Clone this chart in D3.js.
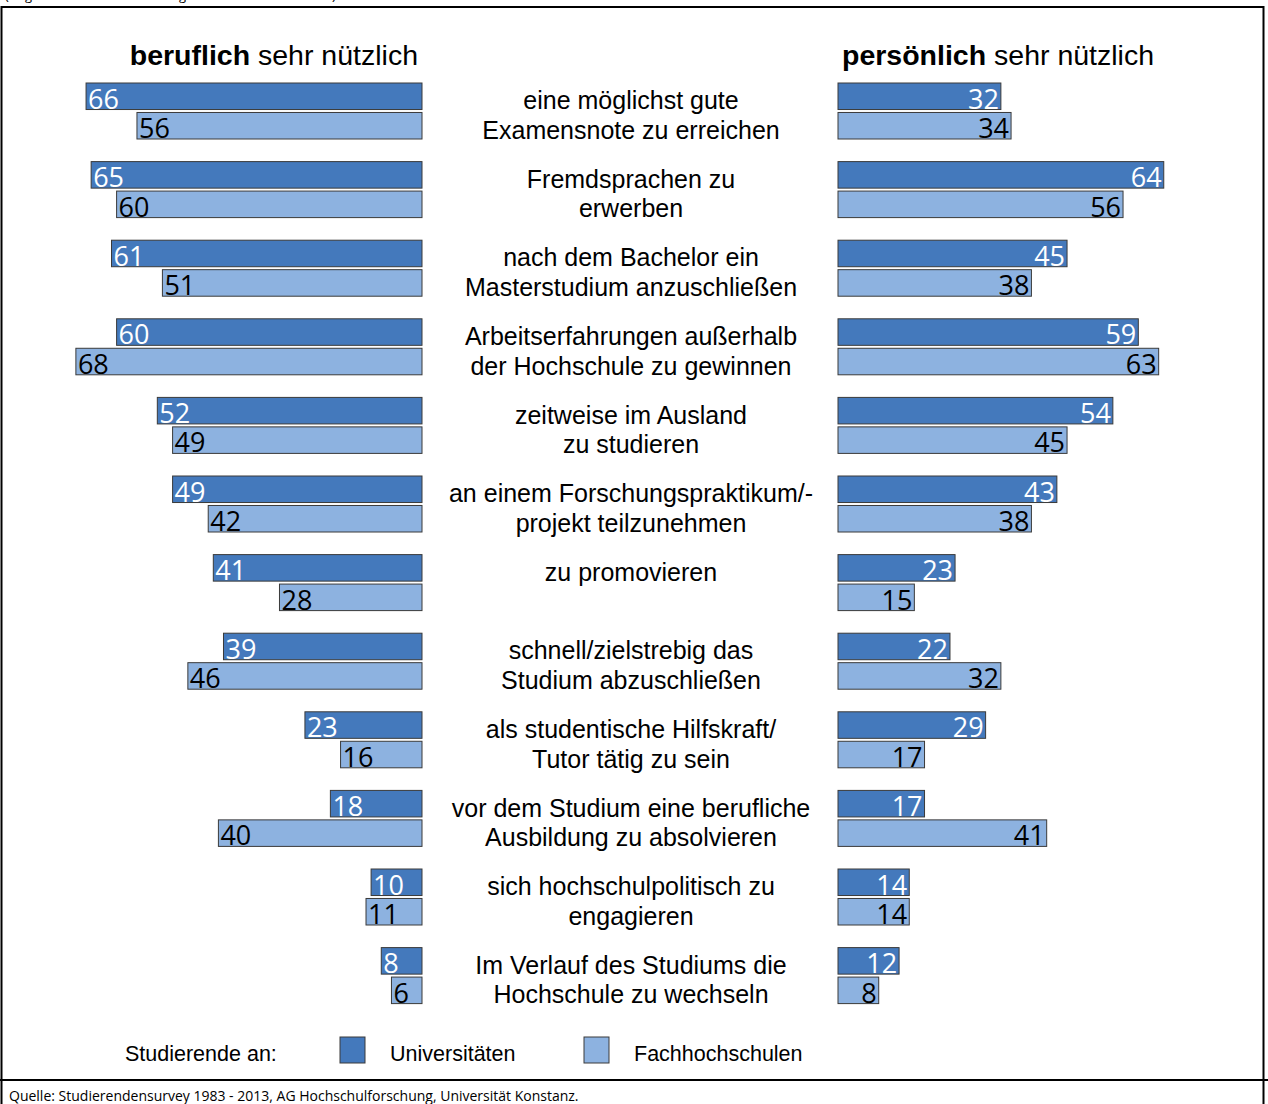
<!DOCTYPE html>
<html>
<head>
<meta charset="utf-8">
<script src="https://cdn.jsdelivr.net/npm/d3@7"></script>
<style>
  body { margin: 0; background: #fff; }
  svg { display: block; }
</style>
</head>
<body>
<div id="chart"></div>
<script>
// categories, two text lines each
var categories = [
  ["eine möglichst gute", "Examensnote zu erreichen"],
  ["Fremdsprachen zu", "erwerben"],
  ["nach dem Bachelor ein", "Masterstudium anzuschließen"],
  ["Arbeitserfahrungen außerhalb", "der Hochschule zu gewinnen"],
  ["zeitweise im Ausland", "zu studieren"],
  ["an einem Forschungspraktikum/-", "projekt teilzunehmen"],
  ["zu promovieren"],
  ["schnell/zielstrebig das", "Studium abzuschließen"],
  ["als studentische Hilfskraft/", "Tutor tätig zu sein"],
  ["vor dem Studium eine berufliche", "Ausbildung zu absolvieren"],
  ["sich hochschulpolitisch zu", "engagieren"],
  ["Im Verlauf des Studiums die", "Hochschule zu wechseln"]
];
var series = ["Universitäten", "Fachhochschulen"];

// beruflich sehr nützlich
var berufUni = [66, 65, 61, 60, 52, 49, 41, 39, 23, 18, 10, 8];
var berufFH  = [56, 60, 51, 68, 49, 42, 28, 46, 16, 40, 11, 6];
// persönlich sehr nützlich
var persUni  = [32, 64, 45, 59, 54, 43, 23, 22, 29, 17, 14, 12];
var persFH   = [34, 56, 38, 63, 45, 38, 15, 32, 17, 41, 14, 8];

var W = 1268, H = 1104;
var colUni = "#4479bc", colFH = "#8db2e0";

var svg = d3.select("#chart").append("svg")
  .attr("width", W).attr("height", H);

// frame
svg.append("rect").attr("x", 1.5).attr("y", 7).attr("width", 1262).attr("height", 1120)
  .attr("fill", "none").attr("stroke", "#000").attr("stroke-width", 2);
svg.append("line").attr("x1", 0).attr("x2", W).attr("y1", 1080).attr("y2", 1080)
  .attr("stroke", "#000").attr("stroke-width", 2);

// cut-off header text above the frame
svg.append("text").attr("x", 5).attr("y", 0)
  .style("font-family", "Open Sans").style("font-size", "13px").attr("fill", "#000")
  .text("(Angaben in Prozent für Kategorien 5-6 = sehr nützlich)");

// source
svg.append("text").attr("x", 9).attr("y", 1101)
  .style("font-family", "Open Sans").style("font-size", "14px").attr("fill", "#000")
  .text("Quelle: Studierendensurvey 1983 - 2013, AG Hochschulforschung, Universität Konstanz.");

// scales
var y = d3.scaleBand().domain(d3.range(categories.length)).range([83, 83 + 12 * 78.6]);
var ys = d3.scaleBand().domain(series).range([0, 56]).paddingInner(0.1);
var x = d3.scaleLinear().domain([0, 100]).range([0, 509]);
var leftEnd = 422, rightStart = 838;

// titles
var tL = svg.append("text").attr("x", 418).attr("y", 65).attr("text-anchor", "end")
  .style("font-family", "Liberation Sans, Arial").style("font-size", "28.5px").attr("fill", "#000");
tL.append("tspan").style("font-weight", "bold").text("beruflich");
tL.append("tspan").text(" sehr nützlich");
var tR = svg.append("text").attr("x", 842).attr("y", 65)
  .style("font-family", "Liberation Sans, Arial").style("font-size", "28.5px").attr("fill", "#000");
tR.append("tspan").style("font-weight", "bold").text("persönlich");
tR.append("tspan").text(" sehr nützlich");

function drawSide(uni, fh, side) {
  var g = svg.append("g");
  categories.forEach(function (c, i) {
    [[series[0], uni[i], colUni, "#fff"], [series[1], fh[i], colFH, "#000"]].forEach(function (s) {
      var w = x(s[1]);
      var by = y(i) + ys(s[0]);
      var bx = side === "left" ? leftEnd - w : rightStart;
      g.append("rect").attr("x", bx).attr("y", by)
        .attr("width", w).attr("height", ys.bandwidth())
        .attr("fill", s[2]).attr("stroke", "#3a3a3a").attr("stroke-width", 1);
      g.append("text")
        .attr("x", side === "left" ? bx + 2 : bx + w - 2)
        .attr("y", by + ys.bandwidth() - 1)
        .attr("text-anchor", side === "left" ? "start" : "end")
        .style("font-family", "Open Sans").style("font-size", "27px")
        .attr("fill", s[3]).text(s[1]);
    });
  });
}
drawSide(berufUni, berufFH, "left");
drawSide(persUni, persFH, "right");

// category labels
categories.forEach(function (c, i) {
  c.forEach(function (line, j) {
    svg.append("text").attr("x", 631)
      .attr("y", y(i) + ys(series[j]) + ys.bandwidth() / 2 + 13)
      .attr("text-anchor", "middle")
      .style("font-family", "Liberation Sans, Arial").style("font-size", "25px")
      .attr("fill", "#000").text(line);
  });
});

// legend
var lg = svg.append("g").style("font-family", "Liberation Sans, Arial").style("font-size", "21.5px");
lg.append("text").attr("x", 125).attr("y", 1061).text("Studierende an:");
[[series[0], colUni, 340], [series[1], colFH, 584]].forEach(function (d) {
  lg.append("rect").attr("x", d[2]).attr("y", 1037).attr("width", 25).attr("height", 26)
    .attr("fill", d[1]).attr("stroke", "#3a3a3a").attr("stroke-width", 1);
  lg.append("text").attr("x", d[2] + 50).attr("y", 1061).text(d[0]);
});
</script>
</body>
</html>
